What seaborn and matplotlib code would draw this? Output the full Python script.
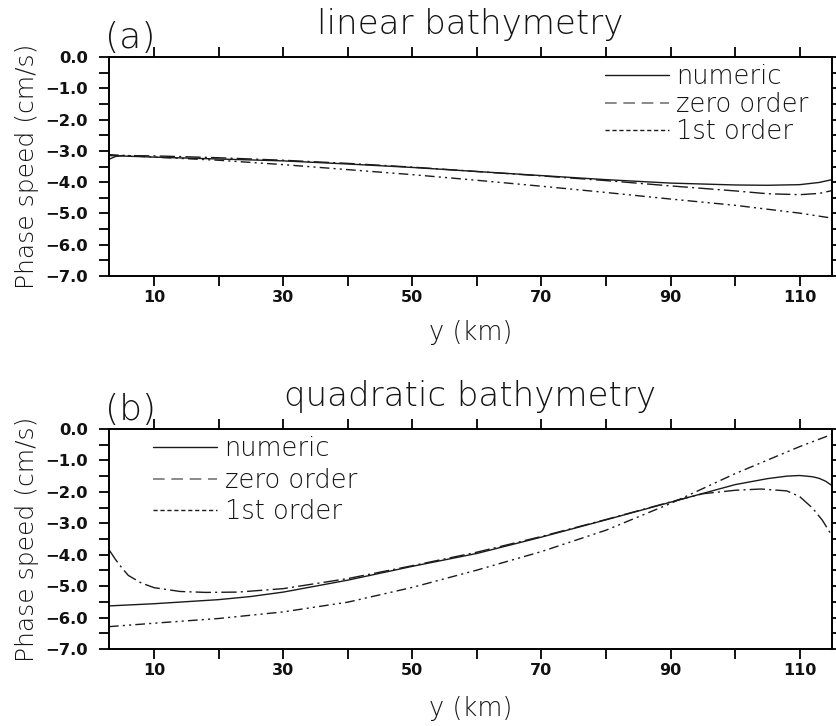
import numpy as np
import pandas as pd
import matplotlib
matplotlib.use("Agg")
import matplotlib.pyplot as plt
from matplotlib.lines import Line2D
from matplotlib.ticker import MultipleLocator, FixedLocator
import seaborn as sns

# ---------------- data: (a) linear bathymetry ----------------
a_num_y = [3, 10, 20, 30, 40, 50, 60, 70, 80, 90, 100, 105, 110, 113, 115]
a_num_c = [-3.15, -3.20, -3.26, -3.32, -3.42, -3.53, -3.66, -3.79, -3.92,
           -4.03, -4.09, -4.10, -4.08, -4.01, -3.92]

a_zero_y = [3, 10, 20, 30, 40, 50, 60, 70, 80, 90, 100, 110, 115]
a_zero_c = [-3.12, -3.20, -3.30, -3.44, -3.60, -3.76, -3.94, -4.13, -4.33,
            -4.54, -4.74, -4.99, -5.15]

a_first_y = [3, 4, 5, 10, 20, 30, 40, 50, 60, 70, 80, 90, 100, 105, 110, 113, 115]
a_first_c = [-3.27, -3.18, -3.15, -3.16, -3.22, -3.30, -3.40, -3.52, -3.66,
             -3.80, -3.95, -4.12, -4.28, -4.37, -4.40, -4.36, -4.27]

# ---------------- data: (b) quadratic bathymetry ----------------
b_num_y = [3, 10, 20, 25, 30, 40, 50, 60, 70, 80, 90, 100, 105, 108, 110,
           112, 113, 114, 115]
b_num_c = [-5.63, -5.56, -5.43, -5.33, -5.19, -4.81, -4.37, -3.96, -3.44,
           -2.89, -2.33, -1.77, -1.58, -1.50, -1.48, -1.52, -1.57, -1.66, -1.80]

b_zero_y = [3, 10, 20, 30, 40, 50, 60, 70, 80, 90, 100, 110, 115]
b_zero_c = [-6.29, -6.18, -6.03, -5.82, -5.51, -5.04, -4.49, -3.90, -3.22,
            -2.37, -1.42, -0.56, -0.17]

b_first_y = [3, 4, 5, 6, 8, 10, 14, 18, 23, 30, 40, 50, 60, 70, 80, 90, 95,
             100, 104, 108, 110, 112, 113.5, 115]
b_first_c = [-3.84, -4.15, -4.42, -4.66, -4.90, -5.05, -5.17, -5.20, -5.19,
             -5.08, -4.76, -4.35, -3.92, -3.42, -2.88, -2.32, -2.06, -1.95,
             -1.91, -1.97, -2.15, -2.52, -2.90, -3.40]

series_names = ["numeric", "zero order", "1st order"]
panel_titles = ["linear bathymetry", "quadratic bathymetry"]
panel_tags = ["(a)", "(b)"]
x_tick_labels = [10, 30, 50, 70, 90, 110]
y_tick_labels = [0.0, -1.0, -2.0, -3.0, -4.0, -5.0, -6.0, -7.0]


def long_form(ys, cs):
    frames = []
    for name, y, c in zip(series_names, ys, cs):
        frames.append(pd.DataFrame({"y": y, "c": c, "series": name}))
    return pd.concat(frames, ignore_index=True)


df_a = long_form([a_num_y, a_zero_y, a_first_y], [a_num_c, a_zero_c, a_first_c])
df_b = long_form([b_num_y, b_zero_y, b_first_y], [b_num_c, b_zero_c, b_first_c])

sns.set_theme(style="ticks")
plt.rcParams["font.family"] = ["DejaVu Sans"]

fig = plt.figure(figsize=(8.37, 7.26), dpi=100)
ax_a = fig.add_axes([0.1302, 0.6198, 0.8638, 0.3017])
ax_b = fig.add_axes([0.1302, 0.1061, 0.8638, 0.3030])

line_dashes = {"numeric": "", "zero order": (7, 3, 1.5, 3, 1.5, 3),
               "1st order": (11, 3, 1.5, 3)}
ink = "#1a1a1a"
text_ink = "#141414"

panels = [
    (ax_a, df_a, panel_tags[0], panel_titles[0], (0.686, 0.967), 0.10, -0.20),
    (ax_b, df_b, panel_tags[1], panel_titles[1], (0.061, 0.967), 0.25, -0.215),
]

for ax, df, tag, title, leg_xy, leg_gap, xlab_y in panels:
    sns.lineplot(data=df, x="y", y="c", style="series", dashes=line_dashes,
                 color=ink, linewidth=1.0, ax=ax, legend=False, sort=False,
                 estimator=None)
    ax.set_xlim(3, 115)
    ax.set_ylim(-7.0, 0.0)
    ax.xaxis.set_major_locator(FixedLocator(x_tick_labels))
    ax.xaxis.set_minor_locator(MultipleLocator(10))
    ax.yaxis.set_major_locator(FixedLocator(y_tick_labels))
    ax.yaxis.set_minor_locator(MultipleLocator(0.5))
    ax.set_xticklabels([str(v) for v in x_tick_labels])
    ax.set_yticklabels([f"{v:.1f}".replace("-", "\u2212") for v in y_tick_labels])
    ax.tick_params(which="both", direction="out", length=7, width=1.3,
                   color="black", top=True, right=True)
    ax.tick_params(axis="x", which="major", pad=3, labelsize=11.5)
    ax.tick_params(axis="y", which="major", pad=8, labelsize=11.8)
    for lab in ax.get_xticklabels() + ax.get_yticklabels():
        lab.set_fontweight("bold")
        lab.set_color("#111111")
    for sp in ax.spines.values():
        sp.set_visible(True)
        sp.set_linewidth(1.4)
        sp.set_color("black")
    ax.set_xlabel("y (km)", fontsize=18.5, color=text_ink, va="top",
                  fontweight="light")
    ax.xaxis.set_label_coords(0.5, xlab_y)
    ax.set_ylabel("Phase speed (cm/s)", fontsize=18, color=text_ink,
                  fontweight="light")
    ax.yaxis.set_label_coords(-0.097, 0.5)
    ax.text(0.5, 1.105, title, transform=ax.transAxes, ha="center",
            va="baseline", fontsize=24.5, color=text_ink, fontweight="light")
    ax.text(-0.006, 1.043, tag, transform=ax.transAxes, ha="left",
            va="baseline", fontsize=26, color=text_ink, fontweight="light")

    handles = [
        Line2D([], [], color=ink, linewidth=1.0),
        Line2D([], [], color="#777777", linewidth=1.2, dashes=(7, 4)),
        Line2D([], [], color=ink, linewidth=1.0, dashes=(3, 2)),
    ]
    leg = ax.legend(handles, series_names, loc="upper left",
                    bbox_to_anchor=leg_xy, frameon=False, fontsize=18.5,
                    handlelength=2.5, handletextpad=0.28,
                    labelspacing=leg_gap, borderaxespad=0, borderpad=0,
                    labelcolor=text_ink)
    for t in leg.get_texts():
        t.set_fontweight("light")

fig.savefig("out.png", dpi=100)
